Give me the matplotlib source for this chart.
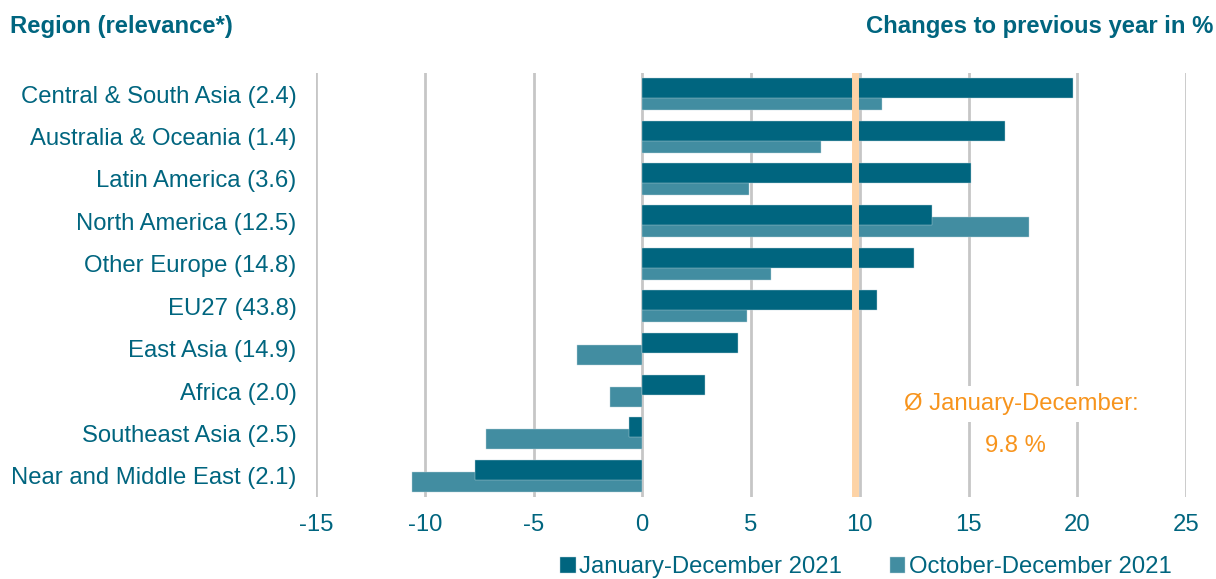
import matplotlib.pyplot as plt
import numpy as np

regions = ["Central & South Asia (2.4)", "Australia & Oceania (1.4)", "Latin America (3.6)",
           "North America (12.5)", "Other Europe (14.8)", "EU27 (43.8)", "East Asia (14.9)",
           "Africa (2.0)", "Southeast Asia (2.5)", "Near and Middle East (2.1)"]
jan_dec = [19.8, 16.7, 15.1, 13.3, 12.5, 10.8, 4.4, 2.9, -0.6, -7.7]
oct_dec = [11.0, 8.2, 4.9, 17.8, 5.9, 4.8, -3.0, -1.5, -7.2, -10.6]
avg_jan_dec = 9.8
xticks = [-15, -10, -5, 0, 5, 10, 15, 20, 25]

dark = "#00657f"
light = "#428da1"
orange = "#f7941d"
fs = 17.2
plt.rcParams['font.family'] = ['Liberation Sans', 'DejaVu Sans']

fig = plt.figure(figsize=(12.16, 5.79), dpi=100)
ax = fig.add_axes([316 / 1216, 1 - 497 / 579, 870 / 1216, 424 / 579])

y = np.arange(len(regions))
h = 0.47
off = 0.141
ax.barh(y + off, oct_dec, height=h, color=light, edgecolor="#b9d3da", linewidth=0.3,
        zorder=2, label="October-December 2021")
ax.barh(y - off, jan_dec, height=h, color=dark, edgecolor="#b9d3da", linewidth=0.3,
        zorder=3, label="January-December 2021")

ax.axvline(avg_jan_dec, color="#fdd3a6", linewidth=5, zorder=4)

ax.set_xlim(-15, 25)
ax.set_ylim(len(regions) - 0.5, -0.5)
ax.set_xticks(xticks)
ax.set_xticklabels([str(t) for t in xticks])
ax.set_yticks(y)
ax.set_yticklabels(regions)
ax.grid(axis='x', color="#c6c6c6", linewidth=2, zorder=0)
ax.set_axisbelow(True)
for s in ax.spines.values():
    s.set_visible(False)
ax.tick_params(axis='both', length=0, labelsize=fs, labelcolor=dark)
ax.tick_params(axis='x', pad=12)
ax.tick_params(axis='y', pad=14)

ax.text(17.45, 7.3, "Ø January-December:", color=orange, fontsize=fs, ha='center', va='center',
        bbox=dict(facecolor='white', edgecolor='none', pad=5), zorder=5)
ax.text(17.15, 8.3, f"{avg_jan_dec} %", color=orange, fontsize=fs, ha='center', va='center',
        bbox=dict(facecolor='white', edgecolor='none', pad=5), zorder=5)

fig.text(10 / 1216, 1 - 27 / 579, "Region (relevance*)", color=dark, fontsize=fs,
         fontweight='bold', ha='left', va='center')
fig.text(1213 / 1216, 1 - 27 / 579, "Changes to previous year in %", color=dark, fontsize=fs,
         fontweight='bold', ha='right', va='center')

handles, labels = ax.get_legend_handles_labels()
leg = fig.legend(handles[::-1], labels[::-1], loc='center', bbox_to_anchor=(866 / 1216, 1 - 567 / 579),
                 ncol=2, frameon=False, fontsize=fs, handlelength=0.65, handleheight=0.65,
                 handletextpad=0.15, columnspacing=2.0, borderpad=0)
for t in leg.get_texts():
    t.set_color(dark)

fig.savefig("out.png", dpi=100)
